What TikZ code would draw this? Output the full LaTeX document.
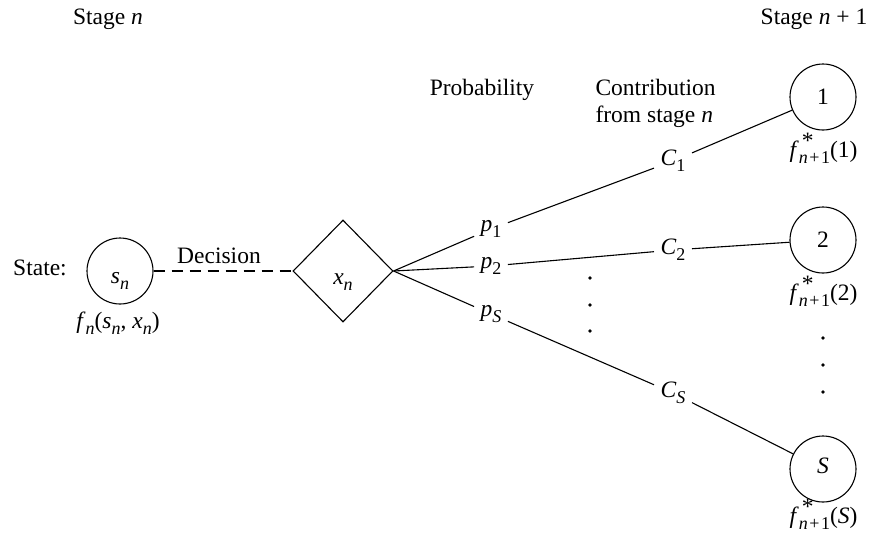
\documentclass[tikz,border=0pt]{standalone}
\usepackage{fontspec}
\setmainfont{Liberation Serif}
\usetikzlibrary{shapes.geometric}
\newcommand{\sbs}[1]{\raisebox{-6pt}{\fontsize{18}{18}\selectfont #1}}
\newcommand{\iv}[1]{\textit{#1}}
\newcommand{\fstar}[1]{\iv{f}\rlap{\hspace{3pt}\raisebox{9pt}{*}}\sbs{\iv{n}\kern1.5pt+\kern1.5pt1}(#1)}
\begin{document}
\begin{tikzpicture}[x=1pt,y=-1pt,
  font=\fontsize{23.5}{27}\selectfont,
  line width=1.1pt,
  txt/.style={inner sep=0pt},
  lab/.style={inner xsep=6pt,inner ysep=2pt},
  statecircle/.style={circle,draw,minimum size=66pt,inner sep=0pt},
  decbox/.style={diamond,draw,minimum width=100pt,minimum height=102pt,inner sep=0pt},
  smalldot/.style={circle,fill,inner sep=0pt,minimum size=3.6pt},
  dashline/.style={dash pattern=on 11pt off 7pt}]
\useasboundingbox (0,0) rectangle (878,536);

% headings
\node[txt,anchor=base] (stn) at (108,24) {Stage \iv{n}};
\node[txt,anchor=base] (stn1) at (814,24) {Stage \iv{n} + 1};
\node[txt,anchor=base] (prob) at (482,95) {Probability};
\node[txt,anchor=base west] (contr) at (595,95) {Contribution};
\node[txt,anchor=base west] (contr2) at (595,122) {from stage \iv{n}};

% state and decision
\node[txt,anchor=base] (statelab) at (40,275) {State:};
\node[statecircle] (s) at (120,271) {};
\node[txt,anchor=base] (sn) at (120,283) {\iv{s}\sbs{\iv{n}}};
\node[txt,anchor=base] (fn) at (118,328) {\iv{f}\sbs{\iv{n}}(\iv{s}\sbs{\iv{n}}, \iv{x}\sbs{\iv{n}})};
\node[decbox] (d) at (343,271) {};
\node[txt,anchor=base] (xn) at (343,284) {\iv{x}\sbs{\iv{n}}};
\node[txt,anchor=base] (dec) at (219,263) {Decision};
\draw[dashline] (s.east) -- (d.west);

% probabilities
\node[lab] (p1) at (491,229) {\iv{p}\sbs{1}};
\node[lab] (p2) at (491,266) {\iv{p}\sbs{2}};
\node[lab] (pS) at (491,314) {\iv{p}\sbs{\iv{S}}};

% contributions
\node[lab] (C1) at (673,161) {\iv{C}\sbs{1}};
\node[lab] (C2) at (673,250) {\iv{C}\sbs{2}};
\node[lab] (CS) at (673,393) {\iv{C}\sbs{\iv{S}}};

% stage n+1 states
\node[statecircle] (n1) at (823,97) {1};
\node[statecircle] (n2) at (823,240) {2};
\node[statecircle] (nS) at (823,469) {};
\node[txt,anchor=base] (Slab) at (823,473) {\iv{S}};
\node[txt,anchor=base east] (f1) at (858,157) {\fstar{1}};
\node[txt,anchor=base east] (f2) at (858,300) {\fstar{2}};
\node[txt,anchor=base east] (fS) at (858,523) {\fstar{\iv{S}}};

% connectors
\draw (d.east) -- (p1);
\draw (d.east) -- (p2);
\draw (d.east) -- (pS);
\draw (p1) -- (C1);
\draw (p2) -- (C2);
\draw (pS) -- (CS);
\draw (C1) -- (n1);
\draw (C2) -- (n2);
\draw (CS) -- (nS);

% dots
\node[smalldot] (m1) at (590,278) {};
\node[smalldot] (m2) at (590,305) {};
\node[smalldot] (m3) at (590,331) {};
\node[smalldot] (r1) at (823,338) {};
\node[smalldot] (r2) at (823,365) {};
\node[smalldot] (r3) at (823,392) {};
\end{tikzpicture}
\end{document}
